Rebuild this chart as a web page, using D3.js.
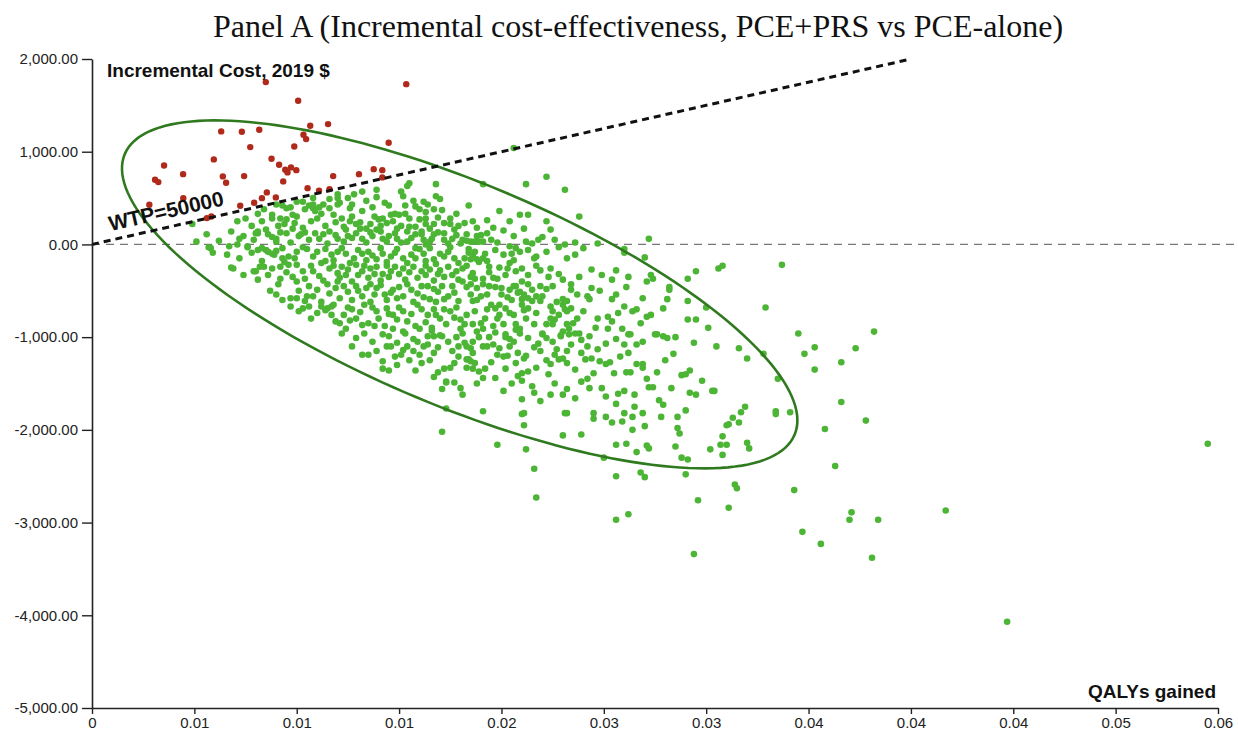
<!DOCTYPE html>
<html>
<head>
<meta charset="utf-8">
<script src="https://cdn.jsdelivr.net/npm/d3@7"></script>
<style>
  body { margin: 0; background: #fff; }
  svg { display: block; }
</style>
</head>
<body>
<svg id="chart"></svg>
<script>
var width = 1238,
    height = 734;

var title = "Panel A (Incremental cost-effectiveness, PCE+PRS vs PCE-alone)";
var yLabel = "Incremental Cost, 2019 $";
var xLabel = "QALYs gained";
var wtpLabel = "WTP=50000";

var xTicks = [0, 0.005, 0.01, 0.015, 0.02, 0.025, 0.03, 0.035, 0.04, 0.045, 0.05, 0.055];
var xTickLabels = ["0", "0.01", "0.01", "0.01", "0.02", "0.03", "0.03", "0.04", "0.04", "0.04", "0.05", "0.06"];
var yTicks = [2000, 1000, 0, -1000, -2000, -3000, -4000, -5000];

var wtp = 50000;

// 95% ellipse: centre and two half-axes, in (QALY, $) units
var ellipseCenter = [0.01796, -539];
var ellipseAxisA = [0.01636, -1513];
var ellipseAxisB = [-0.00211, -1110];

// PSA iterations above the WTP line
var aboveWtp = [
  [0.00849,1751],[0.01007,1550],[0.01066,1280],[0.01153,1298],[0.00631,1219],[0.00732,1216],
  [0.00817,1237],[0.01033,1183],[0.01046,1136],[0.01449,1097],[0.00773,1050],[0.00988,1057],
  [0.00595,917],[0.00877,924],[0.00352,852],[0.00914,860],[0.00944,806],[0.00972,831],
  [0.00998,801],[0.00955,777],[0.00445,758],[0.00639,734],[0.00743,737],[0.00308,698],
  [0.00324,672],[0.00655,666],[0.00934,680],[0.01178,737],[0.01304,758],[0.01376,812],
  [0.01418,801],[0.01418,723],[0.01053,607],[0.01109,579],[0.0116,597],[0.00854,561],
  [0.0083,499],[0.00898,507],[0.00792,450],[0.00724,417],[0.0028,428],[0.00446,499],
  [0.00583,302],[0.00561,284],[0.01535,1729]
];

// PSA iterations below the WTP line
var belowWtp = [
  [0.0051,30],[0.0056,110],[0.0057,-30],[0.0059,-90],[0.0066,-110],[0.0068,-250],[0.0076,-30],[0.008,-290],
  [0.0082,-240],[0.0085,-60],[0.0088,-260],[0.0089,-110],[0.0092,-370],[0.0091,-430],[0.0087,-500],[0.009,-540],
  [0.0093,-150],[0.0096,-220],[0.01,-400],[0.01,-580],[0.0097,-670],[0.0101,-720],[0.0105,-560],[0.0106,-670],
  [0.011,-740],[0.0114,-710],[0.0117,-670],[0.0119,-830],[0.0122,-960],[0.0124,-910],[0.0129,-1010],[0.0132,-870],
  [0.0132,-1190],[0.0135,-1190],[0.0138,-880],[0.0142,-970],[0.0142,-1260],[0.0142,-1340],[0.0145,-1360],[0.0144,-1100],
  [0.0146,-1100],[0.0148,-1210],[0.0151,-1190],[0.0152,-1140],[0.0158,-1360],[0.0157,-1150],[0.0161,-1280],[0.0171,-2020],
  [0.0173,-1770],[0.0171,-1560],[0.0173,-1490],[0.0177,-1490],[0.018,-1550],[0.0191,-1800],[0.0191,-1440],[0.0186,-1340],
  [0.0192,-1340],[0.0198,-2160],[0.0197,-1440],[0.0183,-1240],
  [0.0157,-1020],[0.0162,-1100],[0.016,-1190],[0.0167,-990],[0.017,-980],[0.0171,-990],[0.0167,-1170],[0.0169,-1110],
  [0.0172,-1340],[0.0173,-1480],[0.0176,-1150],[0.0177,-1280],[0.0181,-960],[0.0182,-1060],[0.0183,-1100],[0.0186,-1170],
  [0.0184,-1240],[0.0187,-1280],[0.0183,-1330],[0.0189,-1000],
  [0.0194,-1000],[0.0196,-1080],[0.0193,-1100],[0.0199,-1120],[0.0198,-1190],[0.0201,-1210],[0.0185,-1120],[0.0185,-1260],
  [0.0202,-1340],[0.0202,-1000],[0.0204,-1020],[0.0204,-1100],[0.0203,-1200],[0.0205,-1500],[0.021,-1470],[0.021,-1390],
  [0.0213,-1370],[0.0211,-1230],[0.0212,-1200],[0.0208,-1170],[0.0213,-1010],[0.0218,-1070],[0.0219,-1150],[0.0222,-1250],
  [0.0224,-1290],[0.0223,-1400],[0.0215,-1530],[0.0216,-1600],[0.0219,-1690],[0.021,-1670],[0.0224,-1620],[0.023,-1620],
  [0.0232,-1560],[0.0228,-1240],[0.0227,-1130],[0.023,-1230],[0.0232,-1280],[0.0232,-1150],[0.0229,-980],[0.0233,-970],
  [0.0238,-960],[0.022,-970],[0.0222,-1010],[0.0211,-1820],[0.021,-1830],[0.0211,-1950],[0.0212,-2210],[0.0216,-2420],
  [0.0217,-2730],[0.023,-2060],[0.0231,-1820],[0.0232,-1820],
  [0.0242,-1100],[0.0242,-1450],[0.0245,-1390],[0.0243,-1550],[0.0241,-1240],[0.0244,-1230],[0.0248,-1260],[0.0251,-1290],
  [0.0253,-1270],[0.0249,-1550],[0.0251,-1640],[0.0257,-1610],[0.026,-1580],[0.0261,-1380],[0.0263,-1380],[0.0262,-1170],
  [0.026,-1080],[0.0251,-1070],[0.0262,-970],[0.0266,-1080],[0.0266,-1290],[0.0269,-1290],[0.0269,-1330],[0.0271,-1450],
  [0.0272,-1540],[0.0274,-1540],[0.0276,-970],[0.0279,-990],[0.0276,-1380],[0.0265,-1620],[0.0265,-1750],[0.0269,-1820],
  [0.0277,-1680],[0.0279,-1730],[0.0245,-1820],[0.0245,-1880],[0.0251,-1860],[0.0254,-1920],[0.026,-1820],[0.0259,-1910],
  [0.0264,-1860],[0.0264,-2000],[0.027,-1960],[0.0256,-2160],[0.0261,-2150],[0.0266,-2240],[0.0271,-2170],[0.0272,-2200],
  [0.025,-2300],[0.0256,-2500],[0.0268,-2460],[0.027,-2510],[0.0278,-1860],[0.0286,-1860],[0.0286,-1980],[0.0287,-2040],
  [0.029,-1790],[0.0288,-2300],[0.0291,-2320],[0.029,-2480],[0.0288,-1410],[0.029,-1400],[0.0292,-1360],[0.0292,-1600],
  [0.0295,-1620],[0.0294,-1060],[0.0303,-1580],[0.0304,-1580],[0.0305,-1100],[0.0302,-2210],[0.0307,-2160],[0.0308,-2070],
  [0.031,-2160],[0.0308,-2270],[0.031,-1950],[0.0296,-2760],
  [0.0306,-260],[0.0308,-230],[0.0337,-220],[0.03,-680],[0.0329,-680],[0.0301,-900],[0.0345,-960],[0.0382,-940],
  [0.0316,-1120],[0.032,-1230],[0.0328,-1180],[0.0353,-1110],[0.0348,-1180],[0.0373,-1120],[0.0366,-1270],[0.0353,-1350],
  [0.0335,-1450],[0.0366,-1700],[0.0319,-1750],[0.0317,-1810],[0.0313,-1870],[0.0316,-1920],[0.0311,-1940],[0.0334,-1800],
  [0.0334,-1830],[0.0341,-1810],[0.0378,-1900],[0.0358,-1990],[0.032,-2140],[0.0321,-2200],[0.0363,-2390],[0.0314,-2590],
  [0.0315,-2630],[0.0311,-2840],[0.0343,-2650],[0.0371,-2890],[0.037,-2970],[0.0384,-2970],[0.0417,-2870],[0.0347,-3100],
  [0.0356,-3230],[0.0381,-3380],[0.0447,-4070],[0.0545,-2150],[0.0294,-3340],[0.0256,-2970],[0.0262,-2910],
  [0.0206,1040],[0.0168,650],[0.0155,660],[0.0154,630],[0.0168,520],[0.017,490],[0.0162,460],[0.0164,430],
  [0.0158,410],[0.016,380],[0.0167,380],[0.0153,420],[0.0143,450],[0.0148,330],[0.015,320],[0.0142,280],
  [0.0155,190],[0.0158,190],[0.0163,220],[0.0172,230],[0.0175,280],[0.0167,110],[0.0172,120],[0.0183,110],
  [0.0184,-50],[0.018,10],[0.0174,10],[0.0163,0],[0.0158,-40],[0.0154,30],[0.0148,120],[0.0144,30],
  [0.0191,650],[0.0212,650],[0.0222,730],[0.0231,590],[0.0209,320],[0.0213,320],[0.0204,250],[0.0222,250],
  [0.0238,300],[0.0188,90],[0.019,100],[0.0189,30],[0.0191,30],[0.0187,30],[0.0195,50],[0.022,80],
  [0.0218,50],[0.0215,10],[0.0204,-20],[0.0231,0],[0.024,-40],[0.0247,10],[0.026,-50],[0.026,-90],
  [0.0272,60],[0.027,-140],[0.0232,-150],[0.0187,-80],[0.0192,-100],[0.0188,-160],[0.0189,-190],[0.0193,-180],
  [0.0185,-160],[0.0194,-240],[0.0207,-40],[0.0209,-80],[0.0205,-100],[0.0206,-170],[0.0204,-200],[0.0203,-260],
  [0.0217,-130],[0.0216,-150],[0.021,-260],[0.0219,-280],[0.0244,-270],[0.0256,-280],[0.0273,-330],[0.0274,-370],
  [0.0295,-290],[0.0291,-370],[0.0187,-370],[0.0185,-430],[0.0188,-470],[0.0191,-370],[0.0191,-430],[0.019,-560],
  [0.0196,-360],[0.0198,-370],[0.0194,-450],[0.02,-470],[0.02,-540],[0.0203,-570],[0.0206,-450],[0.0207,-450],
  [0.0204,-490],[0.021,-400],[0.0213,-430],[0.0209,-510],[0.0211,-540],[0.021,-590],[0.0215,-490],[0.0217,-560],
  [0.0215,-610],[0.0219,-450],[0.0223,-350],[0.0225,-450],[0.023,-380],[0.0234,-430],[0.0234,-490],[0.023,-590],
  [0.0232,-610],[0.0242,-560],[0.0243,-590],[0.0244,-470],[0.0254,-380],[0.0254,-590],[0.0256,-540],[0.0269,-580],
  [0.0271,-400],[0.0282,-460],[0.0282,-490],[0.0291,-610],[0.0295,-810],[0.0291,-810],[0.0281,-590],[0.0273,-760],
  [0.0279,-690],[0.026,-670],[0.0264,-720],[0.0266,-700],[0.0268,-850],[0.0259,-910],[0.0252,-780],[0.0254,-830],
  [0.0252,-910],[0.0246,-900],[0.0243,-990],[0.0263,-970],[0.0275,-970],[0.0281,-1010],[0.0237,-800],[0.0235,-850],
  [0.0234,-690],[0.0232,-720],[0.023,-650],[0.0231,-700],[0.0224,-670],[0.0225,-720],[0.0224,-800],[0.0226,-810],
  [0.0225,-860],[0.0222,-860],[0.0232,-860],[0.0233,-910],[0.0236,-960],[0.023,-940],[0.0229,-990],[0.022,-960],
  [0.0216,-860],[0.0207,-860],[0.0209,-910],[0.0207,-920],[0.0201,-860],[0.0202,-970],[0.0198,-800],[0.0192,-800],
  [0.019,-850],[0.0191,-910],[0.0186,-860],[0.0188,-940],[0.0202,-690],[0.0204,-740],[0.0206,-760],[0.021,-650],
  [0.0211,-710],[0.0213,-690],[0.0219,-610],[0.022,-560],[0.0195,-650],[0.0197,-690],[0.0199,-650],[0.0186,-610],
  [0.0151,570],[0.0152,520],[0.0139,590],[0.0139,510],[0.012,540],[0.0128,540],[0.0132,570],[0.0093,420],
  [0.009,430],[0.0108,430],[0.0103,460],[0.0113,430],[0.0116,490],
  [0.0071,250],[0.0075,280],[0.0081,330],[0.0084,380],[0.0088,320],[0.0092,280],[0.0095,270],[0.01,300],
  [0.0104,380],[0.0109,360],[0.0112,330],[0.011,280],[0.0118,320],[0.0122,280],[0.0126,250],[0.0132,360],
  [0.0129,220],[0.0136,220],[0.014,270],[0.0144,230],[0.0155,280],[0.0163,280],[0.0167,220],[0.0175,220],
  [0.0161,110],
  [0.0068,140],[0.0074,90],[0.0081,120],[0.0085,160],[0.0086,110],[0.009,60],[0.0095,120],[0.0098,170],
  [0.0101,90],[0.0106,50],[0.0109,120],[0.0113,110],[0.0116,140],[0.012,60],[0.0124,160],[0.0125,90],
  [0.0129,120],[0.0132,60],[0.0137,90],[0.0139,160],[0.0142,60],[0.0149,60],[0.0154,140],[0.0158,110],
  [0.0162,50],[0.0165,30],[0.0172,50],[0.0176,60],[0.0181,50],[0.0185,30],
  [0.0067,-20],[0.0076,-20],[0.0081,-60],[0.0086,-80],[0.0088,-100],[0.0093,-40],[0.0096,-130],[0.01,-80],
  [0.0105,-50],[0.0108,-130],[0.0114,-50],[0.0117,-110],[0.012,-80],[0.0124,-100],[0.0128,-150],[0.0132,-100],
  [0.0135,-80],[0.0139,-160],[0.0142,-100],[0.0146,-130],[0.0149,-50],[0.0152,-150],[0.0156,-110],[0.016,-50],
  [0.0163,-180],[0.0167,-160],[0.017,-100],[0.0174,-80],[0.0177,-150],[0.0182,-150],[0.0186,-110],
  [0.0069,-260],[0.0079,-290],[0.0084,-240],[0.0092,-240],[0.01,-220],[0.0103,-290],[0.0108,-290],[0.0114,-180],
  [0.0116,-260],[0.012,-310],[0.0122,-240],[0.0125,-270],[0.0129,-220],[0.0132,-290],[0.0136,-260],[0.0139,-240],
  [0.0142,-320],[0.0146,-290],[0.0148,-240],[0.0152,-260],[0.0157,-240],[0.0161,-290],[0.0165,-270],[0.0169,-320],
  [0.0174,-240],[0.0178,-290],[0.0181,-260],[0.0186,-310],
  [0.0097,-580],[0.0106,-450],[0.011,-490],[0.0115,-430],[0.0116,-530],[0.012,-400],[0.0125,-510],[0.0129,-450],
  [0.0132,-560],[0.0136,-430],[0.0139,-470],[0.0143,-540],[0.0147,-490],[0.0149,-580],[0.0154,-430],[0.0159,-530],
  [0.0164,-450],[0.0165,-590],[0.0169,-510],[0.0174,-560],[0.0176,-450],[0.0181,-400],[0.0185,-540],
  [0.0103,-690],[0.0115,-690],[0.0118,-650],[0.0123,-760],[0.0127,-700],[0.0129,-800],[0.0133,-650],[0.0139,-720],
  [0.0144,-690],[0.0147,-760],[0.0149,-810],[0.0152,-720],[0.0159,-650],[0.0164,-760],[0.0167,-700],[0.017,-800],
  [0.0175,-720],[0.018,-810],[0.0183,-760],
  [0.0147,-910],[0.0152,-940],[0.016,-910],[0.0164,-990],[0.018,-910],
  [0.0049,220],[0.0081,140],[0.0088,280],[0.0095,390],[0.01,460],[0.0108,390],[0.0116,390],[0.012,430],
  [0.0125,500],[0.0146,320],[0.0149,170],
  [0.0058,-40],[0.0072,60],[0.008,120],[0.0083,-40],[0.009,30],[0.0094,220],[0.0098,320],[0.0102,110],
  [0.0108,500],[0.012,500],[0.0126,390],[0.0131,170],
  [0.0097,400],[0.0106,420],[0.0111,400],[0.0121,450],[0.0127,430],[0.0134,470],[0.0137,400],[0.0145,420],
  [0.0157,470],[0.0163,350],[0.0171,370],[0.0178,330],[0.0184,420],[0.0186,250],[0.0196,180],[0.0199,360],
  [0.0179,200],
  [0.0078,200],[0.0083,250],[0.0091,200],[0.0099,230],[0.0103,180],[0.0107,250],[0.0114,200],[0.0119,240],
  [0.0123,190],[0.0127,300],[0.0131,240],[0.0134,170],[0.0138,300],[0.0141,200],[0.0147,250],[0.0151,200],
  [0.0153,330],[0.016,270],[0.0165,170],[0.0169,290],[0.0177,160],[0.0182,230],[0.0188,180],[0.0193,260],
  [0.0201,150],[0.0206,90],[0.0211,170],[0.0224,160],
  [0.0062,40],[0.0071,0],[0.0079,50],[0.0088,80],[0.0092,130],[0.0097,20],[0.0104,130],[0.0111,60],
  [0.0115,10],[0.0119,100],[0.0123,30],[0.0127,70],[0.0134,20],[0.0136,130],[0.0141,140],[0.0145,90],
  [0.0151,20],[0.0156,70],[0.0161,140],[0.0166,60],[0.0169,130],[0.0178,100],[0.0183,40],[0.0193,120],
  [0.0198,20],[0.0212,30],[0.0226,50],[0.0236,20],
  [0.0072,-150],[0.0078,-90],[0.0083,-180],[0.009,-70],[0.0094,-190],[0.0099,-150],[0.0103,-30],[0.011,-80],
  [0.0112,-200],[0.0118,-170],[0.0122,-40],[0.0126,-200],[0.013,-60],[0.0134,-170],[0.0137,-120],[0.0141,-40],
  [0.0144,-190],[0.0148,-90],[0.0154,-200],[0.0158,-150],[0.0162,-100],[0.0165,-40],[0.0168,-210],[0.0172,-130],
  [0.0175,-30],[0.0179,-200],[0.0184,-90],[0.0191,-150],[0.0197,-60],[0.0201,-110],[0.0213,-60],[0.0222,-80],
  [0.0228,-30],[0.0236,-110],
  [0.0074,-330],[0.0081,-380],[0.0086,-330],[0.0095,-300],[0.0098,-350],[0.0104,-370],[0.0107,-230],[0.0111,-340],
  [0.0113,-390],[0.0118,-230],[0.0121,-360],[0.0124,-330],[0.0127,-400],[0.013,-330],[0.0133,-230],[0.0135,-360],
  [0.0138,-320],[0.0141,-390],[0.0144,-230],[0.0145,-350],[0.015,-320],[0.0153,-380],[0.0155,-300],[0.0159,-360],
  [0.0163,-230],[0.0163,-330],[0.0167,-390],[0.017,-280],[0.0172,-350],[0.0176,-330],[0.0179,-380],[0.0183,-230],
  [0.0185,-350],[0.0194,-300],[0.0199,-250],[0.0202,-330],[0.0207,-290],[0.0213,-330],[0.0217,-230],[0.0224,-260],
  [0.0228,-320],[0.0238,-350],[0.0249,-330],[0.0262,-350],
  [0.0093,-600],[0.0101,-500],[0.0104,-610],[0.0108,-560],[0.0112,-620],[0.0119,-470],[0.0121,-580],[0.0123,-450],
  [0.0127,-600],[0.013,-500],[0.0134,-470],[0.0136,-620],[0.0138,-540],[0.0141,-440],[0.0144,-600],[0.0146,-520],
  [0.015,-460],[0.0152,-560],[0.0156,-490],[0.0157,-620],[0.0161,-450],[0.0162,-570],[0.0167,-480],[0.0168,-620],
  [0.0171,-450],[0.0172,-590],[0.0177,-520],[0.0179,-610],[0.0183,-460],[0.0188,-600],[0.0193,-540],[0.0197,-460],
  [0.0205,-600],[0.0208,-520],[0.0213,-580],[0.0222,-480],[0.0227,-620],[0.0237,-540],[0.0248,-500],[0.0261,-460],
  [0.0107,-800],[0.0112,-670],[0.0117,-760],[0.0121,-850],[0.0125,-680],[0.0126,-820],[0.0131,-730],[0.0135,-850],
  [0.0137,-680],[0.014,-800],[0.0143,-880],[0.0145,-750],[0.015,-680],[0.0154,-830],[0.0156,-750],[0.0158,-880],
  [0.0161,-700],[0.0163,-840],[0.0166,-900],[0.0168,-760],[0.0172,-700],[0.0173,-860],[0.0177,-790],[0.0178,-680],
  [0.0182,-860],[0.0187,-720],[0.0193,-700],[0.0196,-880],[0.0199,-760],[0.0212,-800],[0.0217,-740],[0.0228,-760],
  [0.024,-720],[0.0247,-800],[0.0257,-740],[0.0271,-780],
  [0.0127,-1100],[0.0133,-960],[0.0137,-1050],[0.0139,-1150],[0.0145,-990],[0.0149,-1060],[0.0153,-960],[0.0154,-1100],
  [0.0159,-1050],[0.0164,-1080],[0.0166,-930],[0.0174,-1050],[0.0178,-1000],[0.0179,-1100],[0.0186,-1050],[0.0191,-1100],
  [0.0197,-950],[0.0206,-1050],[0.0209,-960],[0.0216,-1110],[0.0225,-1050],[0.0234,-1080],[0.0239,-1030],[0.0247,-1130],
  [0.0256,-1020],[0.0269,-1050],[0.0285,-1000],
  [0.0149,-1300],[0.0155,-1250],[0.0165,-1250],[0.0169,-1380],[0.0175,-1330],[0.0179,-1210],[0.0189,-1370],[0.0195,-1270],
  [0.0207,-1280],[0.0217,-1330],[0.0226,-1190],[0.0236,-1350],[0.0239,-1170],[0.0255,-1390],[0.0258,-1210],[0.028,-1250],
  [0.0284,-1180],
  [0.0167,-1430],[0.0181,-1620],[0.0188,-1500],[0.0201,-1580],[0.0208,-1420],[0.0226,-1500],[0.0236,-1660],[0.0239,-1480],
  [0.0256,-1720],[0.0283,-1550],[0.0298,-1470],[0.0285,-2180],[0.0239,-2050]
];

var fmt = d3.formatLocale({ decimal: ".", thousands: ",", grouping: [3], currency: ["$", ""], minus: "-" }).format(",.2f");

var x = d3.scaleLinear().domain([0, 0.055]).range([92, 1218]);
var y = d3.scaleLinear().domain([-5000, 2000]).range([708, 59]);

var svg = d3.select("#chart").attr("width", width).attr("height", height)
  .style("font-family", "'Liberation Sans', Arial, sans-serif");

svg.append("text")
  .attr("x", 638).attr("y", 37)
  .attr("text-anchor", "middle")
  .style("font-family", "'Liberation Serif', 'Times New Roman', serif")
  .style("font-size", "32px")
  .attr("fill", "#111")
  .text(title);

// zero cost reference line
svg.append("line")
  .attr("x1", x(0)).attr("x2", width - 2)
  .attr("y1", y(0)).attr("y2", y(0))
  .attr("stroke", "#777").attr("stroke-width", 1.3)
  .attr("stroke-dasharray", "8,6");

// points
svg.append("g").selectAll("circle")
  .data(belowWtp)
  .enter().append("circle")
  .attr("cx", function(d) { return x(d[0]); })
  .attr("cy", function(d) { return y(d[1]); })
  .attr("r", 3.3)
  .attr("fill", "#4db535");

svg.append("g").selectAll("circle")
  .data(aboveWtp)
  .enter().append("circle")
  .attr("cx", function(d) { return x(d[0]); })
  .attr("cy", function(d) { return y(d[1]); })
  .attr("r", 3.2)
  .attr("fill", "#b02a1c");

// confidence ellipse
var ellipsePts = d3.range(0, 360, 2).map(function(a) {
  var t = a * Math.PI / 180;
  return [ellipseCenter[0] + Math.cos(t) * ellipseAxisA[0] + Math.sin(t) * ellipseAxisB[0],
          ellipseCenter[1] + Math.cos(t) * ellipseAxisA[1] + Math.sin(t) * ellipseAxisB[1]];
});
svg.append("path")
  .attr("d", d3.line()
    .x(function(d) { return x(d[0]); })
    .y(function(d) { return y(d[1]); })
    .curve(d3.curveLinearClosed)(ellipsePts))
  .attr("fill", "none")
  .attr("stroke", "#2f7a1f")
  .attr("stroke-width", 2.6);

// willingness-to-pay threshold line
var wtpEnd = 2000 / wtp;
svg.append("line")
  .attr("x1", x(0)).attr("y1", y(0))
  .attr("x2", x(wtpEnd)).attr("y2", y(wtpEnd * wtp))
  .attr("stroke", "#111").attr("stroke-width", 3)
  .attr("stroke-dasharray", "7,5");

var angle = Math.atan2(y(2000) - y(0), x(wtpEnd) - x(0)) * 180 / Math.PI;
svg.append("text")
  .attr("transform", "translate(" + x(0.001) + "," + y(0.001 * wtp) + ") rotate(" + angle + ")")
  .attr("dy", -9)
  .style("font-size", "21px").style("font-weight", "bold")
  .attr("fill", "#111")
  .text(wtpLabel);

// axes
var yAxis = svg.append("g")
  .attr("transform", "translate(" + x(0) + ",0)")
  .call(d3.axisLeft(y).tickValues(yTicks).tickFormat(fmt).tickSize(10).tickSizeOuter(0).tickPadding(4));

var xAxis = svg.append("g")
  .attr("transform", "translate(0," + y(-5000) + ")")
  .call(d3.axisBottom(x).tickValues(xTicks)
    .tickFormat(function(d, i) { return xTickLabels[i]; })
    .tickSize(6).tickSizeOuter(0).tickPadding(3));

[yAxis, xAxis].forEach(function(g) {
  g.select(".domain").attr("stroke", "#222").attr("stroke-width", 1.6);
  g.selectAll(".tick line").attr("stroke", "#222").attr("stroke-width", 1.4);
  g.selectAll(".tick text")
    .style("font-family", "'Liberation Sans', Arial, sans-serif")
    .style("font-size", "15px").attr("fill", "#222");
});

svg.append("text")
  .attr("x", x(0) + 15).attr("y", y(2000) + 18)
  .style("font-size", "19px").style("font-weight", "bold")
  .attr("fill", "#111")
  .text(yLabel);

svg.append("text")
  .attr("x", x(0.055) - 2).attr("y", y(-5000) - 10)
  .attr("text-anchor", "end")
  .style("font-size", "19px").style("font-weight", "bold")
  .attr("fill", "#111")
  .text(xLabel);
</script>
</body>
</html>
